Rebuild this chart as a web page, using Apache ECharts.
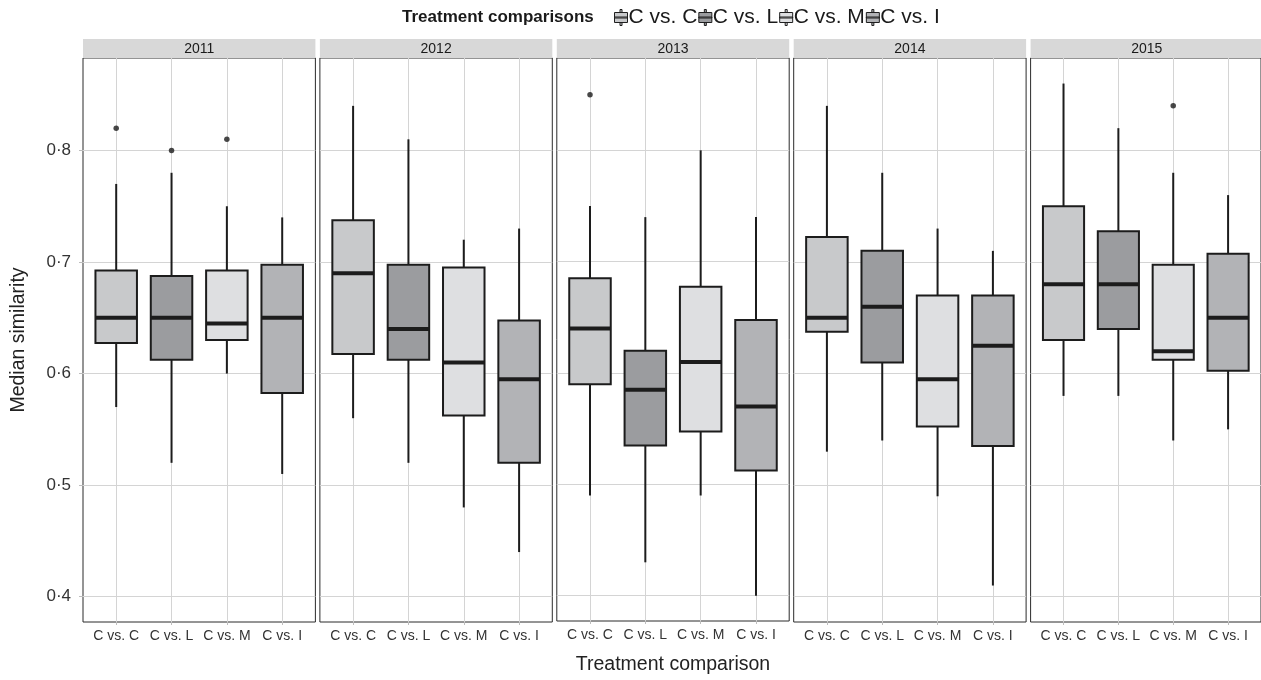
<!DOCTYPE html>
<html><head><meta charset="utf-8">
<script src="https://cdn.jsdelivr.net/npm/echarts@6/dist/echarts.min.js"></script>
<style>html,body{margin:0;padding:0;background:#fff}#c{width:1261px;height:680px}</style>
</head><body><div id="c"></div>
<script>
// ---- data ----
const years = ['2011', '2012', '2013', '2014', '2015'];
const categories = ['C vs. C', 'C vs. L', 'C vs. M', 'C vs. I'];
const yTicks = [0.4, 0.5, 0.6, 0.7, 0.8];
// per year, per category
const whiskerLow = [
  [0.57, 0.52, 0.60, 0.51],
  [0.56, 0.52, 0.48, 0.44],
  [0.49, 0.43, 0.49, 0.40],
  [0.53, 0.54, 0.49, 0.41],
  [0.58, 0.58, 0.54, 0.55]
];
const quart1 = [
  [0.6275, 0.6125, 0.63, 0.5825],
  [0.6175, 0.6125, 0.5625, 0.52],
  [0.59, 0.535, 0.5475, 0.5125],
  [0.6375, 0.61, 0.5525, 0.535],
  [0.63, 0.64, 0.6125, 0.6025]
];
const medians = [
  [0.65, 0.65, 0.645, 0.65],
  [0.69, 0.64, 0.61, 0.595],
  [0.64, 0.585, 0.61, 0.57],
  [0.65, 0.66, 0.595, 0.625],
  [0.68, 0.68, 0.62, 0.65]
];
const quart3 = [
  [0.6925, 0.6875, 0.6925, 0.6975],
  [0.7375, 0.6975, 0.695, 0.6475],
  [0.685, 0.62, 0.6775, 0.6475],
  [0.7225, 0.71, 0.67, 0.67],
  [0.75, 0.7275, 0.6975, 0.7075]
];
const whiskerHigh = [
  [0.77, 0.78, 0.75, 0.74],
  [0.84, 0.81, 0.72, 0.73],
  [0.75, 0.74, 0.80, 0.74],
  [0.84, 0.78, 0.73, 0.71],
  [0.86, 0.82, 0.78, 0.76]
];
const outlierYear = [0, 0, 0, 2, 4];
const outlierCat = [0, 1, 2, 0, 2];
const outlierValue = [0.82, 0.80, 0.81, 0.85, 0.84];

// ---- style / layout ----
const fills = ['#c8c9cb', '#9b9c9f', '#dedfe1', '#b2b3b6'];
const FONT = '"Liberation Sans", Arial, sans-serif';
const PANEL_L = 83, PANEL_STEP = 236.9, PANEL_W = 232.4, TOP = 58, PANEL_H = 564;
const STRIP_TOP = 39, STRIP_H = 19;
const YMIN = 0.3773, YMAX = 0.8829;

const chart = echarts.init(document.getElementById('c'), null, {renderer: 'canvas'});

const grids = [], xAxes = [], yAxes = [], series = [], graphics = [];

function fmtY(v) {
  for (const t of yTicks) if (Math.abs(v - t) < 1e-6) return t.toFixed(1).replace('.', '\u00b7');
  return '';
}
function fmtX(v) {
  const r = Math.round(v);
  if (Math.abs(v - r) < 1e-6 && r >= 1 && r <= categories.length) return categories[r - 1];
  return '';
}

function renderBox(params, api) {
  const x = api.value(0);
  const w = api.size([1, 0])[0] * 0.75;
  const pLo = api.coord([x, api.value(1)]);
  const pQ1 = api.coord([x, api.value(2)]);
  const pMed = api.coord([x, api.value(3)]);
  const pQ3 = api.coord([x, api.value(4)]);
  const pHi = api.coord([x, api.value(5)]);
  const fill = api.visual('color');
  const stroke = '#1c1c1c';
  return {
    type: 'group',
    children: [
      {type: 'line', shape: {x1: pLo[0], y1: pLo[1], x2: pQ1[0], y2: pQ1[1]}, style: {stroke, lineWidth: 2}},
      {type: 'line', shape: {x1: pQ3[0], y1: pQ3[1], x2: pHi[0], y2: pHi[1]}, style: {stroke, lineWidth: 2}},
      {type: 'rect', shape: {x: pQ3[0] - w / 2, y: pQ3[1], width: w, height: pQ1[1] - pQ3[1]},
        style: {fill, stroke, lineWidth: 2}},
      {type: 'line', shape: {x1: pMed[0] - w / 2, y1: pMed[1], x2: pMed[0] + w / 2, y2: pMed[1]},
        style: {stroke, lineWidth: 4}}
    ]
  };
}

years.forEach((yr, i) => {
  const left = PANEL_L + i * PANEL_STEP;
  grids.push({left, top: TOP, width: PANEL_W, height: PANEL_H, show: true,
    borderColor: '#2b2b2b', borderWidth: 1, backgroundColor: '#fff', containLabel: false});
  xAxes.push({
    type: 'value', gridIndex: i, min: 0.4, max: 4.6, splitNumber: 4,
    axisLine: {show: false},
    axisTick: {show: true, length: 3, lineStyle: {color: '#bdbdbd'}, customValues: [1, 2, 3, 4]},
    axisLabel: {show: true, formatter: fmtX, fontSize: 14, color: '#333', fontFamily: FONT, margin: 7,
      customValues: [1, 2, 3, 4]},
    splitLine: {show: true, lineStyle: {color: '#d4d4d4', width: 1}},
    name: i === 2 ? 'Treatment comparison' : '',
    nameLocation: 'middle', nameGap: 34,
    nameTextStyle: {fontSize: 19.5, color: '#222', fontFamily: FONT}
  });
  yAxes.push({
    type: 'value', gridIndex: i, min: YMIN, max: YMAX, splitNumber: 5,
    axisLine: {show: false},
    axisTick: {show: i === 0, length: 4, lineStyle: {color: '#bdbdbd'}, customValues: yTicks},
    axisLabel: {show: i === 0, formatter: fmtY, fontSize: 17, color: '#333', fontFamily: FONT, margin: 12,
      customValues: yTicks},
    splitLine: {show: true, lineStyle: {color: '#d4d4d4', width: 1}},
    name: i === 0 ? 'Median similarity' : '',
    nameLocation: 'middle', nameGap: 54, nameRotate: 90,
    nameTextStyle: {fontSize: 19.5, color: '#222', fontFamily: FONT}
  });
  categories.forEach((cat, j) => {
    series.push({
      type: 'custom', name: cat, xAxisIndex: i, yAxisIndex: i,
      itemStyle: {color: fills[j]},
      encode: {x: 0, y: [1, 2, 3, 4, 5]},
      renderItem: renderBox,
      data: [[j + 1, whiskerLow[i][j], quart1[i][j], medians[i][j], quart3[i][j], whiskerHigh[i][j]]],
      silent: true, z: 3
    });
  });
  const pts = [];
  outlierYear.forEach((yi, k) => { if (yi === i) pts.push([outlierCat[k] + 1, outlierValue[k]]); });
  series.push({
    type: 'scatter', xAxisIndex: i, yAxisIndex: i, data: pts, symbolSize: 5.5,
    itemStyle: {color: '#1a1a1a'}, silent: true, z: 4
  });
  graphics.push({
    type: 'rect', left: left, top: STRIP_TOP, shape: {width: PANEL_W, height: STRIP_H},
    style: {fill: '#d8d8d8'}, silent: true
  });
  graphics.push({
    type: 'text', x: left + PANEL_W / 2, y: STRIP_TOP + STRIP_H / 2 + 1,
    style: {text: yr, fill: '#1a1a1a', font: '14px ' + FONT, textAlign: 'center', textVerticalAlign: 'middle'},
    silent: true
  });
});

const option = {
  backgroundColor: '#fff',
  animation: false,
  title: {
    text: 'Treatment comparisons', left: 397, top: 4,
    textStyle: {fontSize: 17, fontWeight: 'bold', color: '#1a1a1a', fontFamily: FONT}
  },
  legend: {
    data: categories, left: 609, top: 2, itemGap: 1, itemWidth: 13, itemHeight: 16,
    icon: 'path://M5.5,0h2v3h-2z M0,3h13v10h-13z M0,7.5h13v1h-13z M5.5,13h2v3h-2z',
    itemStyle: {borderColor: '#1f1f1f', borderWidth: 1},
    textStyle: {fontSize: 21, color: '#1a1a1a', fontFamily: FONT, padding: [0, 0, 0, -4]},
    selectedMode: false
  },
  grid: grids, xAxis: xAxes, yAxis: yAxes, series: series,
  graphic: graphics
};
chart.setOption(option);
</script></body></html>
